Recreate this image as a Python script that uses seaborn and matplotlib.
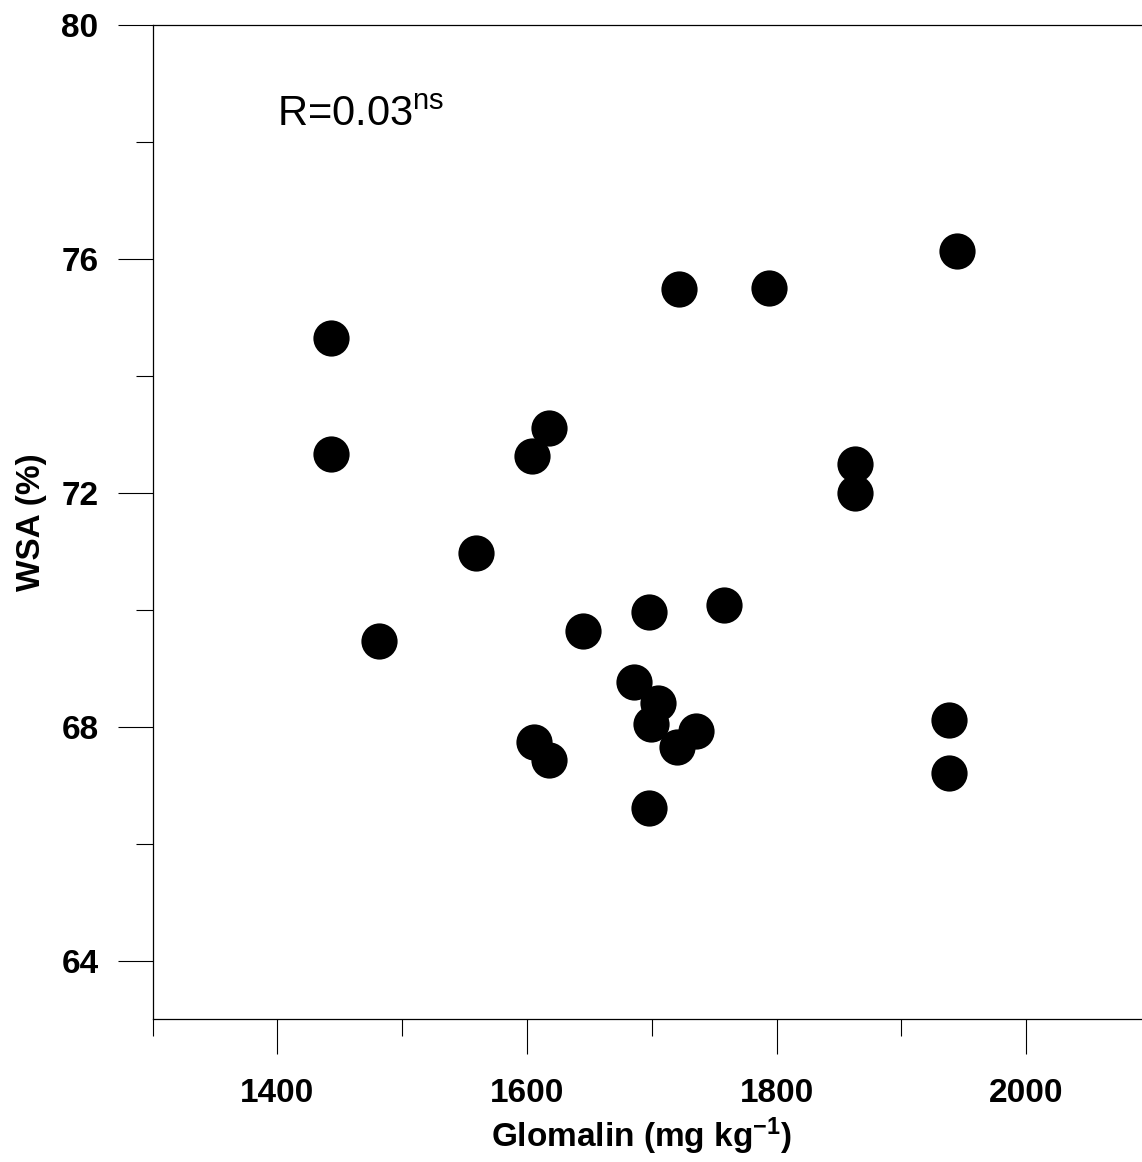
import matplotlib
matplotlib.use("Agg")
import matplotlib.pyplot as plt
from matplotlib.ticker import MultipleLocator
import seaborn as sns
import pandas as pd

# Data
glomalin = [1442.7, 1442.7, 1481.4, 1559.4, 1604.0, 1617.6, 1605.4, 1617.6,
            1644.9, 1685.7, 1697.8, 1699.4, 1705.2, 1697.8, 1720.4, 1735.2,
            1757.9, 1722.0, 1793.9, 1862.8, 1862.8, 1944.6, 1938.1, 1938.1]
wsa = [74.64, 72.66, 69.47, 70.97, 72.63, 73.11, 67.74, 67.44,
       69.64, 68.76, 69.96, 68.04, 68.40, 66.61, 67.65, 67.92,
       70.08, 75.48, 75.51, 72.49, 72.00, 76.14, 68.12, 67.21]

x_label = "Glomalin (mg kg$^{\\mathbf{-1}}$)"
y_label = "WSA (%)"
annotation = "R=0.03$^{\\mathrm{ns}}$"

df = pd.DataFrame({"Glomalin": glomalin, "WSA": wsa})

sns.set_style("ticks")
plt.rcParams["font.family"] = ["Liberation Sans", "DejaVu Sans"]
plt.rcParams["mathtext.fontset"] = "custom"
plt.rcParams["mathtext.rm"] = "Liberation Sans"
plt.rcParams["mathtext.bf"] = "Liberation Sans:bold"
plt.rcParams["mathtext.it"] = "Liberation Sans:italic"
plt.rcParams["axes.unicode_minus"] = False
plt.rcParams["text.color"] = "black"
plt.rcParams["axes.labelcolor"] = "black"
plt.rcParams["xtick.color"] = "black"
plt.rcParams["ytick.color"] = "black"

fig = plt.figure(figsize=(11.42, 11.62), dpi=100)
ax = fig.add_axes([0.1336, 0.1229, 0.8743, 0.8556])

sns.scatterplot(data=df, x="Glomalin", y="WSA", ax=ax, color="black",
                s=680, linewidth=0, legend=False)

ax.set_xlim(1300, 2100)
ax.set_ylim(63, 80)

ax.xaxis.set_major_locator(MultipleLocator(200))
ax.xaxis.set_minor_locator(MultipleLocator(100))
ax.yaxis.set_major_locator(MultipleLocator(4))
ax.yaxis.set_minor_locator(MultipleLocator(2))

ax.tick_params(axis="both", which="major", direction="out", length=25,
               width=0.8, color="black", labelcolor="black", labelsize=24, pad=14)
ax.tick_params(axis="both", which="minor", direction="out", length=12.5,
               width=0.8, color="black")
ax.tick_params(axis="x", which="major", pad=17)
ax.tick_params(top=False, right=False, which="both")

for lab in ax.get_xticklabels() + ax.get_yticklabels():
    lab.set_fontweight("bold")

for sp in ax.spines.values():
    sp.set_linewidth(0.9)
    sp.set_color("black")

ax.set_xlabel(x_label, fontsize=24, fontweight="bold", color="black")
ax.set_ylabel(y_label, fontsize=24, fontweight="bold", color="black")
ax.xaxis.set_label_coords(0.49, -0.097)
ax.yaxis.set_label_coords(-0.106, 0.5)

ax.text(1400, 78.27, annotation, fontsize=30, va="baseline", ha="left",
        color="black")

fig.savefig("out.png", dpi=100)
